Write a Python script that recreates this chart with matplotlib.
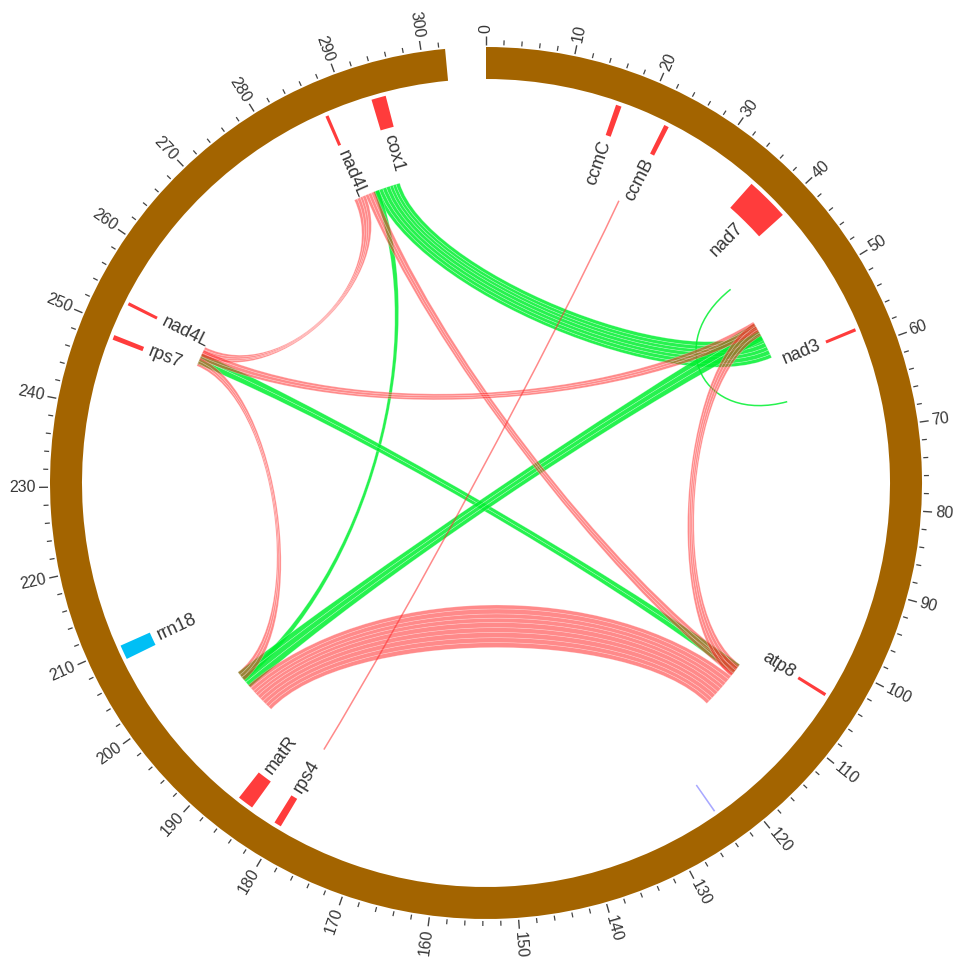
import numpy as np
import matplotlib
matplotlib.use("Agg")
import matplotlib.pyplot as plt
from matplotlib.patches import Wedge, PathPatch
from matplotlib.path import Path
from matplotlib import font_manager

# ---------------- genome scale ----------------
GENOME_KB = 302.7          # length of the circular map (kb)
GAP_KB = 4.6               # empty gap left between end and start
MINOR_TICK_KB = 2
MAJOR_TICK_KB = 10

# ---------------- annotated features ----------------
feature_names = ["ccmC", "ccmB", "nad7", "nad3", "atp8", "", "rps4", "matR",
                 "rrn18", "rps7", "nad4L", "nad4L", "cox1"]
feature_start = [16.2, 22.6, 35.5, 57.4, 103.9, 123.8, 180.0, 184.2,
                 208.2, 248.4, 253.0, 287.1, 293.1]
feature_end = [16.9, 23.2, 40.9, 57.8, 104.3, 124.0, 180.9, 186.2,
               210.0, 249.0, 253.4, 287.5, 294.9]
feature_type = ["gene", "gene", "gene", "gene", "gene", "other", "gene", "gene",
                "rRNA", "gene", "gene", "gene", "gene"]

# ---------------- repeat links (start1, end1, start2, end2) in kb ----------------
links_cox1_nad3 = [
    (289.6, 290.2, 56.0, 56.6),
    (290.2, 290.8, 55.3, 56.0),
    (290.8, 291.4, 54.7, 55.3),
    (291.4, 292.0, 54.0, 54.7),
    (292.0, 292.5, 53.4, 54.0),
    (292.5, 293.0, 52.7, 53.4),
    (293.0, 293.6, 52.0, 52.7),
]
links_cox1_matR = [(289.3, 290.2, 196.9, 197.8)]
links_rps7_atp8_g = [(249.6, 250.5, 108.1, 109.0), (250.5, 251.4, 107.2, 108.1)]
links_nad3_matR = [
    (50.6, 51.6, 197.6, 198.6),
    (51.6, 52.6, 196.6, 197.6),
    (52.6, 53.6, 195.6, 196.6),
]
links_nad3_loop = [(44.0, 44.15, 63.85, 64.0)]

links_cox1_rps7 = [
    (286.0, 286.5, 252.1, 252.5),
    (286.5, 287.0, 251.7, 252.1),
    (287.0, 287.4, 251.4, 251.7),
    (287.4, 287.9, 251.0, 251.4),
]
links_cox1_atp8 = [
    (287.9, 288.4, 108.7, 109.3),
    (288.4, 288.9, 108.1, 108.7),
    (288.9, 289.5, 107.5, 108.1),
]
links_rps7_nad3 = [
    (250.4, 250.9, 51.4, 52.0),
    (250.9, 251.5, 50.9, 51.4),
    (251.5, 252.0, 50.3, 50.9),
]
links_rps7_matR = [
    (249.3, 249.7, 198.1, 198.6),
    (249.7, 250.1, 197.6, 198.1),
    (250.1, 250.6, 197.0, 197.6),
]
links_nad3_atp8 = [
    (50.5, 51.1, 108.9, 109.5),
    (51.1, 51.7, 108.3, 108.9),
    (51.7, 52.3, 107.7, 108.3),
    (52.3, 52.8, 107.2, 107.7),
]
links_matR_atp8 = [
    (190.8, 191.4, 114.6, 115.2),
    (191.4, 192.0, 114.0, 114.6),
    (192.0, 192.6, 113.3, 114.0),
    (192.6, 193.2, 112.7, 113.3),
    (193.2, 193.8, 112.0, 112.7),
    (193.8, 194.3, 111.4, 112.0),
    (194.3, 194.8, 110.8, 111.4),
    (194.8, 195.4, 110.1, 110.8),
    (195.4, 196.0, 109.5, 110.1),
]
links_ccmB_rps4 = [(21.45, 21.6, 180.3, 180.45)]

green_links = [links_cox1_nad3, links_cox1_matR, links_rps7_atp8_g,
               links_nad3_matR, links_nad3_loop]
red_links = [links_cox1_rps7, links_cox1_atp8, links_rps7_nad3,
             links_rps7_matR, links_nad3_atp8, links_matR_atp8, links_ccmB_rps4]

# ---------------- styling ----------------
W, H = 954, 959
CX, CY = 486, H - 483
R_RING_OUT, RING_W = 436, 32
R_FEAT_OUT, R_FEAT_IN = 400, 368
R_LINK = 312
R_TICK0, MINOR_LEN, MAJOR_LEN = 438, 5, 9
R_TICK_LABEL = 450
R_FEAT_LABEL = 362

BROWN = "#a36400"
RED_FEAT = "#ff3c3c"
BLUE_FEAT = "#00bff5"
OTHER_FEAT = "#a8a8ff"
RED_LINK = "#ff2a2a"
GREEN_LINK = "#00f030"
TEXT_COL = "#363636"

# bezier pull towards the centre as a function of the angular span of a link edge
CURVE_SPAN = [0, 75, 88.5, 101, 180]
CURVE_K = [0.72, 0.72, 0.65, 0.49, 0.47]

installed = {f.name for f in font_manager.fontManager.ttflist}
FONT = "Liberation Sans Narrow" if "Liberation Sans Narrow" in installed else "Liberation Sans"

DEG_PER_KB = 360.0 / (GENOME_KB + GAP_KB)


def theta(pos):
    return pos * DEG_PER_KB


def xy(pos, r):
    t = np.radians(theta(pos))
    return np.array([CX + r * np.sin(t), CY + r * np.cos(t)])


def ctrl_factor(p1, p2):
    d = abs(theta(p1) - theta(p2)) % 360
    d = min(d, 360 - d)
    return np.interp(d, CURVE_SPAN, CURVE_K)


def curve_to(p_from, p_to):
    k = ctrl_factor(p_from, p_to)
    return [xy(p_from, k * R_LINK), xy(p_to, k * R_LINK), xy(p_to, R_LINK)]


def arc(p1, p2, r, n=6):
    return [xy(p, r) for p in np.linspace(p1, p2, n)]


def ribbon_path(a1, a2, b1, b2):
    verts, codes = [], []
    pts = arc(a1, a2, R_LINK)
    verts += pts
    codes += [Path.MOVETO] + [Path.LINETO] * (len(pts) - 1)
    verts += curve_to(a2, b1)
    codes += [Path.CURVE4] * 3
    pts = arc(b1, b2, R_LINK)[1:]
    verts += pts
    codes += [Path.LINETO] * len(pts)
    verts += curve_to(b2, a1)
    codes += [Path.CURVE4] * 3
    verts.append(verts[0])
    codes.append(Path.CLOSEPOLY)
    return Path(np.array(verts), codes)


def draw_link(ax, link, color, alpha):
    a1, a2, b1, b2 = link
    if (a2 - a1) < 0.3 and (b2 - b1) < 0.3:
        am, bm = (a1 + a2) / 2, (b1 + b2) / 2
        verts = [xy(am, R_LINK)] + curve_to(am, bm)
        path = Path(np.array(verts), [Path.MOVETO] + [Path.CURVE4] * 3)
        ax.add_patch(PathPatch(path, fc="none", ec=color, lw=1.1, alpha=alpha))
    else:
        path = ribbon_path(a1, a2, b1, b2)
        ax.add_patch(PathPatch(path, fc=color, alpha=alpha, ec="none", lw=0))
        ax.add_patch(PathPatch(path, fc="none", ec=(1, 1, 1, 0.35), lw=0.45))


def radial_text(ax, pos, r, text, outward_anchor, **kw):
    t = theta(pos)
    x, y = xy(pos, r)
    if t < 180:
        rot = 90 - t
        ha = "right" if outward_anchor else "left"
    else:
        rot = 270 - t
        ha = "left" if outward_anchor else "right"
    ax.text(x, y, text, rotation=rot, rotation_mode="anchor", ha=ha, va="center", **kw)


fig = plt.figure(figsize=(W / 100, H / 100), dpi=100)
ax = fig.add_axes([0, 0, 1, 1])
ax.set_xlim(0, W)
ax.set_ylim(0, H)
ax.axis("off")

# outer chromosome ring
ax.add_patch(Wedge((CX, CY), R_RING_OUT, 90 - theta(GENOME_KB), 90, width=RING_W,
                   fc=BROWN, ec="none"))

# scale ticks and labels
for p in range(0, int(GENOME_KB) + 1, MINOR_TICK_KB):
    major = p % MAJOR_TICK_KB == 0
    r1 = R_TICK0 + (MAJOR_LEN if major else MINOR_LEN)
    x0, y0 = xy(p, R_TICK0)
    x1, y1 = xy(p, r1)
    ax.plot([x0, x1], [y0, y1], color="#444444", lw=1.0 if major else 0.9,
            solid_capstyle="butt")
    if major:
        radial_text(ax, p, R_TICK_LABEL, str(p), outward_anchor=False,
                    fontsize=11.5, color=TEXT_COL, family=FONT)

# feature track
type_colors = {"gene": RED_FEAT, "rRNA": BLUE_FEAT, "other": OTHER_FEAT}
for name, s, e, kind in zip(feature_names, feature_start, feature_end, feature_type):
    ax.add_patch(Wedge((CX, CY), R_FEAT_OUT, 90 - theta(e), 90 - theta(s),
                       width=R_FEAT_OUT - R_FEAT_IN, fc=type_colors[kind], ec="none"))
    if name:
        radial_text(ax, (s + e) / 2, R_FEAT_LABEL, name, outward_anchor=True,
                    fontsize=13, color=TEXT_COL, family=FONT)

# repeat links
for group in green_links:
    for link in group:
        draw_link(ax, link, GREEN_LINK, 0.85)
for group in red_links:
    for link in group:
        draw_link(ax, link, RED_LINK, 0.55)

fig.savefig("out.png", dpi=100)
